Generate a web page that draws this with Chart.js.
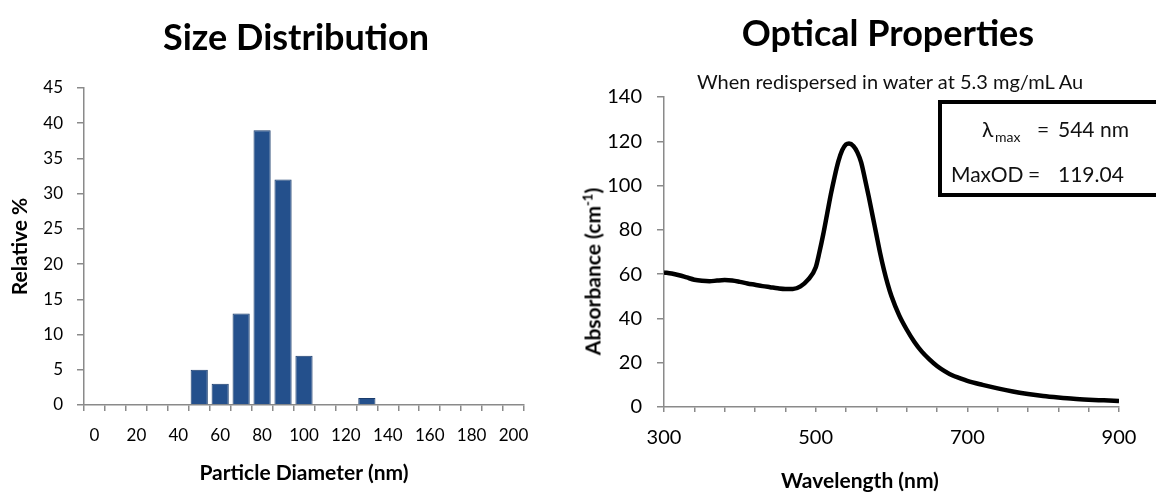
<!DOCTYPE html>
<html>
<head>
<meta charset="utf-8">
<script src="https://cdn.jsdelivr.net/npm/chart.js@4.4.0/dist/chart.umd.min.js"></script>
<style>
  html, body { margin: 0; padding: 0; background: #fff; overflow: hidden; width: 1156px; height: 493px; }
  body { position: relative; font-family: Lato, "Open Sans", sans-serif; color: #000; }
  #sizeWrap { position: absolute; left: 0; top: 0; width: 560px; height: 493px; }
  #opticWrap { position: absolute; left: 570px; top: 0; width: 586px; height: 493px; }
  .title { position: absolute; width: 600px; text-align: center; font-weight: bold; font-size: 36px; line-height: 44px; white-space: nowrap; }
  .sub { position: absolute; width: 600px; text-align: center; font-size: 20px; line-height: 24px; color: #111; white-space: nowrap; }
  .axisTitle { position: absolute; width: 300px; text-align: center; font-weight: bold; font-size: 21px; line-height: 25px; white-space: nowrap; }
  .axisTitle sup { font-size: 13px; line-height: 0; vertical-align: 8px; }
  .rot { transform: rotate(-90deg); transform-origin: 50% 50%; }
</style>
</head>
<body>
<div id="sizeWrap"><canvas id="sizeChart"></canvas></div>
<div id="opticWrap"><canvas id="opticChart"></canvas></div>
<div class="title" style="left: -4px; top: 14px;">Size Distribution</div>
<div class="title" style="left: 588px; top: 10px;">Optical Properties</div>
<div class="sub" style="left: 590px; top: 69px;">When redispersed in water at 5.3 mg/mL Au</div>
<div class="axisTitle" style="left: 710px; top: 467px;">Wavelength (nm)</div>
<div class="axisTitle rot" style="left: 442px; top: 259px;">Absorbance (cm<sup>-1</sup>)</div>
<script>
// Size distribution (bins of 10 nm)
const sizeBins = [0, 10, 20, 30, 40, 50, 60, 70, 80, 90, 100, 110, 120, 130, 140, 150, 160, 170, 180, 190, 200];
const relativePct = [0, 0, 0, 0, 0, 5, 3, 13, 39, 32, 7, 0, 0, 1, 0, 0, 0, 0, 0, 0, 0];

// Absorbance spectrum
const wavelengthNm = [300, 310, 320, 330, 340, 350, 360, 370, 380, 390, 400, 410, 420, 430, 440, 450, 460, 470, 480, 490,
  500, 505, 510, 515, 520, 525, 530, 535, 540, 544, 550, 555, 560, 565, 570, 575, 580, 585, 590, 595,
  600, 610, 620, 630, 640, 650, 660, 670, 680, 690, 700, 720, 740, 760, 780, 800, 820, 840, 860, 880, 900];
const absorbance = [60.8, 60.3, 59.5, 58.5, 57.5, 57.0, 56.8, 57.1, 57.3, 57.1, 56.5, 55.8, 55.2, 54.6, 54.1, 53.6, 53.3, 53.3, 54.5, 57.5,
  63, 70, 78, 87, 96, 104, 111, 116, 118.6, 119.04, 117.8, 115, 110.5, 103, 95, 86.5, 78, 69.5, 62, 55.5,
  50, 41.5, 35, 29.5, 25, 21.5, 18.5, 16.2, 14.3, 13, 11.8, 10, 8.4, 7, 5.9, 5.0, 4.3, 3.7, 3.3, 3.0, 2.7];

const lambdaMax = '544 nm';
const maxOD = '119.04';

const FONT = 'Lato, "Open Sans", sans-serif';
const AXIS_GREY = '#8a8a8a';

// ---- Size Distribution ----
new Chart(document.getElementById('sizeChart'), {
  type: 'bar',
  data: {
    labels: sizeBins,
    datasets: [{
      data: relativePct,
      backgroundColor: '#24508c',
      borderColor: '#1a3c6c',
      borderWidth: 1,
      categoryPercentage: 1,
      barPercentage: 0.82
    }]
  },
  options: {
    responsive: true,
    maintainAspectRatio: false,
    animation: false,
    layout: { padding: { left: 7.4, right: 36, top: 88, bottom: 7.4 } },
    plugins: {
      legend: { display: false },
      tooltip: { enabled: false }
    },
    scales: {
      x: {
        afterFit: (scale) => { scale.height = 80.6; },
        grid: { display: true, drawOnChartArea: false, tickLength: 6, color: AXIS_GREY, lineWidth: 1.5 },
        border: { display: true, color: AXIS_GREY, width: 1.5 },
        ticks: {
          autoSkip: false,
          maxRotation: 0,
          padding: 14.8,
          color: '#000',
          font: { family: FONT, size: 17 },
          callback: function (val, i) { return i % 2 === 0 ? this.getLabelForValue(val) : ''; }
        },
        title: {
          display: true,
          text: 'Particle Diameter (nm)',
          color: '#000',
          padding: 0,
          font: { family: FONT, size: 21, weight: 'bold' }
        }
      },
      y: {
        min: 0,
        max: 45,
        afterFit: (scale) => { scale.width = 76.6; },
        grid: { display: true, drawOnChartArea: false, tickLength: 7, color: AXIS_GREY, lineWidth: 1.5 },
        border: { display: true, color: AXIS_GREY, width: 1.5 },
        ticks: { stepSize: 5, padding: 14, color: '#000', font: { family: FONT, size: 17 } },
        title: {
          display: true,
          text: 'Relative %',
          color: '#000',
          padding: 0,
          font: { family: FONT, size: 21, weight: 'bold' }
        }
      }
    }
  }
});

// box with lambda max / MaxOD in the top right corner
const peakBox = {
  id: 'peakBox',
  afterDraw(chart) {
    const ctx = chart.ctx;
    const area = chart.chartArea;
    const left = area.right - 179;
    const top = area.top + 5;
    ctx.save();
    ctx.lineWidth = 4;
    ctx.strokeStyle = '#000';
    ctx.fillStyle = '#fff';
    ctx.fillRect(left, top, 240, 93);
    ctx.strokeRect(left, top, 240, 93);
    ctx.fillStyle = '#111';
    ctx.textBaseline = 'alphabetic';
    ctx.font = '21px ' + FONT;
    ctx.fillText('λ', left + 42, top + 35);
    ctx.font = '14px ' + FONT;
    ctx.fillText('max', left + 55, top + 40);
    ctx.font = '21px ' + FONT;
    ctx.fillText('=', left + 97, top + 35);
    ctx.fillText(lambdaMax, left + 118, top + 35);
    ctx.fillText('MaxOD', left + 11, top + 80);
    ctx.fillText('=', left + 88, top + 80);
    ctx.fillText(maxOD, left + 118, top + 80);
    ctx.restore();
  }
};

// ---- Optical Properties ----
new Chart(document.getElementById('opticChart'), {
  type: 'line',
  data: {
    datasets: [{
      data: wavelengthNm.map((w, i) => ({ x: w, y: absorbance[i] })),
      borderColor: '#000',
      borderWidth: 4.5,
      pointRadius: 0,
      fill: false,
      cubicInterpolationMode: 'monotone'
    }]
  },
  options: {
    responsive: true,
    maintainAspectRatio: false,
    animation: false,
    layout: { padding: { left: 9.4, right: 37, top: 97, bottom: 0 } },
    plugins: {
      legend: { display: false },
      tooltip: { enabled: false }
    },
    scales: {
      x: {
        type: 'linear',
        min: 300,
        max: 900,
        afterFit: (scale) => { scale.height = 86; },
        grid: { display: true, drawOnChartArea: false, tickLength: 5, color: AXIS_GREY, lineWidth: 1.5 },
        border: { display: true, color: AXIS_GREY, width: 1.5 },
        ticks: {
          stepSize: 40,
          autoSkip: false,
          maxRotation: 0,
          padding: 14,
          color: '#000',
          font: { family: FONT, size: 20 },
          callback: (v) => ((v - 300) % 200 === 0 ? v : '')
        }
      },
      y: {
        min: 0,
        max: 140,
        afterFit: (scale) => { scale.width = 84.6; },
        grid: { display: true, drawOnChartArea: false, tickLength: 7, color: AXIS_GREY, lineWidth: 1.5 },
        border: { display: true, color: AXIS_GREY, width: 1.5 },
        ticks: { stepSize: 20, padding: 15, color: '#000', font: { family: FONT, size: 20 } }
      }
    }
  },
  plugins: [peakBox]
});
</script>
</body>
</html>
